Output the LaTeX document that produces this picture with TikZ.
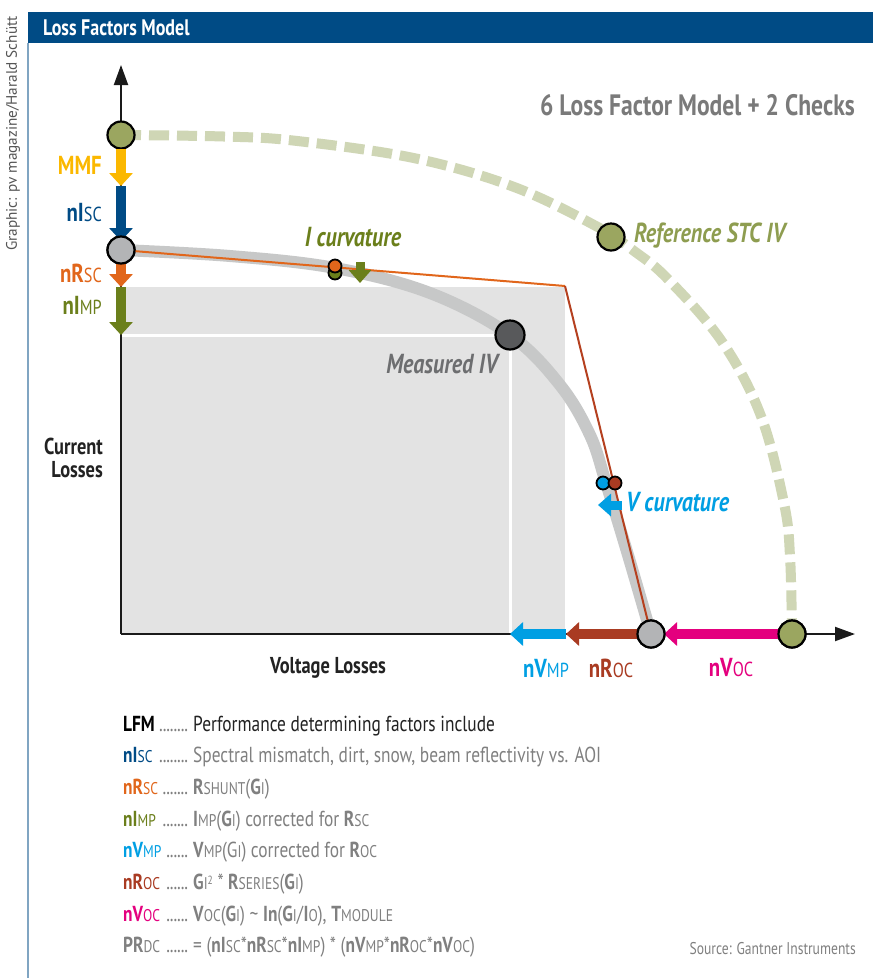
\documentclass[tikz,border=0pt]{standalone}
\usepackage{fontspec}
\setmainfont{PT Sans}[FakeStretch=0.8]
\newfontfamily\creditfont{PT Sans}
\usepackage{graphicx}
\usetikzlibrary{arrows.meta}
\definecolor{hdrblue}{HTML}{004B85}
\definecolor{credgray}{HTML}{555555}
\definecolor{axisblack}{HTML}{1A1A1A}
\definecolor{stcgreen}{HTML}{9BA660}
\definecolor{dashgreen}{HTML}{CFD6B5}
\definecolor{measgray}{HTML}{C7C8C8}
\definecolor{circgray}{HTML}{B3B4B6}
\definecolor{darkcirc}{HTML}{58595B}
\definecolor{rectgray}{HTML}{E3E3E3}
\definecolor{mmfc}{HTML}{FBB800}
\definecolor{iscc}{HTML}{004B85}
\definecolor{rscc}{HTML}{E1661B}
\definecolor{impc}{HTML}{6B7F1B}
\definecolor{vmpc}{HTML}{009FE3}
\definecolor{rocc}{HTML}{A93B22}
\definecolor{vocc}{HTML}{E4007E}
\definecolor{redline}{HTML}{B5401F}
\definecolor{stctext}{HTML}{8E9D50}
\definecolor{meastext}{HTML}{6D6E70}
\definecolor{headgray}{HTML}{7A7A7A}
\definecolor{lgray}{HTML}{808080}
\definecolor{txtdark}{HTML}{222222}
\newcommand\fs[1]{\fontsize{#1}{#1}\selectfont}
\newcommand\sm[1]{\scalebox{0.78}{\mdseries #1}}
\newcommand\legkey[2]{\makebox[67pt][l]{\bfseries\textcolor{#1}{#2}\,\textcolor{lgray}{\mdseries\leaders\hbox to 3.6pt{\hss.\hss}\hfill}\hspace*{2pt}}}
\begin{document}
\begin{tikzpicture}[x=1pt,y=-1pt,
  gcirc/.style={circle,draw=black,line width=2.2pt,fill=stcgreen,minimum size=27pt,inner sep=0pt},
  graycirc/.style={gcirc,fill=circgray},
  darkc/.style={gcirc,fill=darkcirc,minimum size=29pt},
  smallc/.style={circle,draw=black,line width=1.8pt,minimum size=13pt,inner sep=0pt},
  fat/.style={line width=10pt,-{Triangle[width=23pt,length=13pt]}},
  thinfat/.style={line width=9pt,-{Triangle[width=22pt,length=13pt]}},
  axisline/.style={draw=axisblack,line width=2pt,-{Triangle[width=14pt,length=20pt]}},
  lbl/.style={anchor=east,font=\bfseries\fs{26},inner sep=0pt},
  xlbl/.style={font=\bfseries\fs{26},inner sep=0pt},
  curvlbl/.style={font=\bfseries\itshape\fs{27.5},inner sep=0pt},
  legk/.style={anchor=base west,font=\fs{21.7},inner sep=0pt},
  legd/.style={anchor=base west,font=\fs{21.7},inner sep=0pt,text=lgray}
]
\useasboundingbox (0,0) rectangle (873,978);
\fill[white] (0,0) rectangle (873,978);
% header
\fill[hdrblue] (28,12) rectangle (873,43);
\node[anchor=west,text=white,font=\bfseries\fs{22.5},inner sep=0pt] (title) at (43,28) {Loss Factors Model};
\draw[draw=hdrblue!50,line width=1.5pt] (28,43) -- (28,978);
\node[rotate=90,anchor=west,font=\creditfont\fs{15.2},text=credgray,inner sep=0pt] (credit) at (13,251) {Graphic: pv magazine/Harald Schütt};
% grey power rectangles
\fill[rectgray] (121,287) rectangle (565,634);
\draw[white,line width=3pt] (121,335) -- (510,335) -- (510,634);
% reference STC curve
\draw[dashgreen,line width=10pt,dash pattern=on 20pt off 8pt] plot[smooth,tension=0.6] coordinates {(121,135) (223.7,136.5) (295.6,140.8) (415,158.3) (514.7,187.2) (598.7,227.5) (635,251.7) (667.6,278.8) (721.7,341.2) (760.7,415.3) (784.2,504.2) (790.1,558) (792,634)};
% measured curve
\draw[measgray,line width=12pt] plot[smooth,tension=0.6] coordinates {(121,250) (230,256) (335,268) (430,293) (510,335) (560,385) (590,435) (606,483) (628,555) (651,634)};
% axes
\coordinate (O) at (121,634);
\coordinate (ytip) at (121,65);
\coordinate (xtip) at (855,634);
\draw[axisline] (O) -- (ytip);
\draw[axisline] (O) -- (xtip);
% nodes
\node[gcirc] (stcI) at (121,135) {};
\node[gcirc] (stcM) at (611,237) {};
\node[gcirc] (stcV) at (792,634) {};
\node[graycirc] (mI) at (121,250) {};
\node[graycirc] (mV) at (651,634) {};
\coordinate (knee) at (565,286);
% model lines
\draw[rscc,line width=2pt] (mI.center) -- (knee);
\draw[redline,line width=2pt] (knee) -- (mV.center);
% y-axis loss arrows
\coordinate (a1) at (121,149);
\coordinate (a2) at (121,186);
\coordinate (a3) at (121,241);
\coordinate (a4) at (121,263);
\coordinate (a5) at (121,287);
\coordinate (a6) at (121,335);
\draw[fat,mmfc] (a1) -- (a2);
\draw[fat,iscc] (a2) -- (a3);
\draw[fat,rscc] (a4) -- (a5);
\draw[fat,impc] (a5) -- (a6);
% x-axis loss arrows
\coordinate (b1) at (780,634);
\coordinate (b2) at (664,634);
\coordinate (b3) at (638,634);
\coordinate (b4) at (566,634);
\coordinate (b5) at (510,634);
\draw[fat,vocc] (b1) -- (b2);
\draw[fat,rocc] (b3) -- (b4);
\draw[fat,vmpc] (b4) -- (b5);
% redraw circles on top
\node[graycirc] at (mI) {};
\node[graycirc] at (mV) {};
\node[gcirc] at (stcV) {};
\node[darkc] (mpp) at (510,335) {};
% curvature markers
\node[smallc,fill=impc] (icg) at (335,273) {};
\node[smallc,fill=rscc] (ico) at (335,266) {};
\coordinate (ia1) at (360,262);
\coordinate (ia2) at (360,283);
\draw[thinfat,impc] (ia1) -- (ia2);
\node[smallc,fill=vmpc] (vcb) at (603,483) {};
\node[smallc,fill=rocc] (vcr) at (615,483) {};
\coordinate (va1) at (622,505);
\coordinate (va2) at (598,505);
\draw[thinfat,vmpc] (va1) -- (va2);
% texts
\node[anchor=east,font=\bfseries\fs{29.5},text=headgray,inner sep=0pt] (head) at (855,105) {6 Loss Factor Model + 2 Checks};
\node[lbl,text=mmfc] (lmmf) at (102,165) {MMF};
\node[lbl,text=iscc] (lisc) at (102,213) {nI\sm{SC}};
\node[lbl,text=rscc] (lrsc) at (102,273) {nR\sm{SC}};
\node[lbl,text=impc] (limp) at (102,305) {nI\sm{MP}};
\node[anchor=east,align=right,font=\bfseries\fontsize{23}{23}\selectfont,text=txtdark,inner sep=0pt] (cl) at (103,458) {Current\\Losses};
\node[font=\bfseries\fs{23},text=txtdark,inner sep=0pt] (vl) at (328,668) {Voltage Losses};
\node[xlbl,text=vmpc] (lvmp) at (546,668) {nV\sm{MP}};
\node[xlbl,text=rocc] (lroc) at (611,668) {nR\sm{OC}};
\node[xlbl,text=vocc] (lvoc) at (731,668) {nV\sm{OC}};
\node[curvlbl,text=impc] (icl) at (353,237) {I curvature};
\node[curvlbl,text=stctext,anchor=west] (stcl) at (634,236) {Reference STC IV};
\node[curvlbl,text=meastext,anchor=east] (ml) at (498,364) {Measured IV};
\node[curvlbl,text=vmpc,anchor=west] (vcl) at (626,502) {V curvature};
% legend
\node[legk] (k1) at (123,731) {\legkey{black}{LFM}};
\node[legd,text=txtdark] (d1) at (193,731) {Performance determining factors include};
\node[legk] (k2) at (123,762.6) {\legkey{iscc}{nI\sm{SC}}};
\node[legd] (d2) at (193,762.6) {Spectral mismatch, dirt, snow, beam reflectivity vs. AOI};
\node[legk] (k3) at (123,794) {\legkey{rscc}{nR\sm{SC}}};
\node[legd] (d3) at (193,794) {\textbf{R}\sm{SHUNT}(\textbf{G}\sm{I})};
\node[legk] (k4) at (123,826) {\legkey{impc}{nI\sm{MP}}};
\node[legd] (d4) at (193,826) {\textbf{I}\sm{MP}(\textbf{G}\sm{I}) corrected for \textbf{R}\sm{SC}};
\node[legk] (k5) at (123,857) {\legkey{vmpc}{nV\sm{MP}}};
\node[legd] (d5) at (193,857) {\textbf{V}\sm{MP}(G\sm{I}) corrected for \textbf{R}\sm{OC}};
\node[legk] (k6) at (123,889) {\legkey{rocc}{nR\sm{OC}}};
\node[legd] (d6) at (193,889) {\textbf{G}\sm{I\raisebox{0.5ex}{\scalebox{0.7}{2}}} * \textbf{R}\sm{SERIES}(\textbf{G}\sm{I})};
\node[legk] (k7) at (123,921) {\legkey{vocc}{nV\sm{OC}}};
\node[legd] (d7) at (193,921) {\textbf{V}\sm{OC}(\textbf{G}\sm{I}) \textasciitilde{} \textbf{In}(\textbf{G}\sm{I}/\textbf{I}\sm{O}), \textbf{T}\sm{MODULE}};
\node[legk] (k8) at (123,952) {\legkey{lgray}{PR\sm{DC}}};
\node[legd] (d8) at (193,952) {= (\textbf{nI}\sm{SC}*\textbf{nR}\sm{SC}*\textbf{nI}\sm{MP}) * (\textbf{nV}\sm{MP}*\textbf{nR}\sm{OC}*\textbf{nV}\sm{OC})};
\node[anchor=east,font=\fs{17},text=lgray,inner sep=0pt] (src) at (856,949) {Source: Gantner Instruments};
\end{tikzpicture}
\end{document}
